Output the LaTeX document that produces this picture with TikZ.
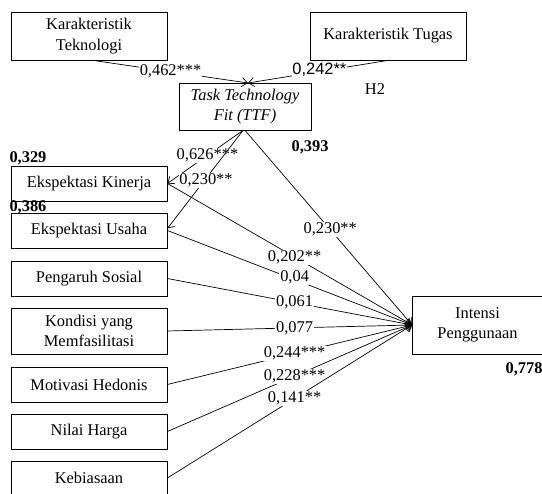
\documentclass[tikz,border=0pt]{standalone}
\usepackage{fontspec}
\setmainfont{Liberation Serif}
\newfontfamily\arialfont{Liberation Sans}
\usetikzlibrary{arrows.meta}
\newcommand\diagfont{\fontsize{16.4}{20.5}\selectfont}
\begin{document}
\begin{tikzpicture}[x=1pt,y=-1pt,
  box/.style={draw, line width=0.8pt, inner sep=0pt, align=center, font=\diagfont, minimum width=156pt},
  conn/.style={line width=0.7pt, -{Straight Barb[length=5.5pt,width=9pt]}},
  lbl/.style={fill=white, inner sep=0.8pt, font=\diagfont},
  bnum/.style={inner sep=0pt, font=\diagfont\bfseries}]
\useasboundingbox (0,0) rectangle (542,494);
% boxes
\node[box, minimum height=48pt] (tekno) at (89,36) {Karakteristik\\Teknologi};
\node[box, minimum height=48pt] (tugas) at (388,36) {Karakteristik Tugas};
\node[box, minimum width=132pt, minimum height=47pt, font=\diagfont\itshape] (ttf) at (245,106.5) {Task Technology\\Fit (TTF)};
\node[box, minimum height=35pt] (kin) at (89,183.5) {Ekspektasi Kinerja};
\node[box, minimum height=35pt] (usa) at (89,230.5) {Ekspektasi Usaha};
\node[box, minimum height=35pt] (sos) at (89,278.5) {Pengaruh Sosial};
\node[box, minimum height=46pt] (kon) at (89,331) {Kondisi yang\\Memfasilitasi};
\node[box, minimum height=35pt] (mot) at (89,384.5) {Motivasi Hedonis};
\node[box, minimum height=35pt] (nil) at (89,431.5) {Nilai Harga};
\node[box, minimum height=34pt] (keb) at (89,478) {Kebiasaan};
\node[box, minimum width=130pt, minimum height=58pt] (int) at (477.5,325) {Intensi\\Penggunaan};
\coordinate (ttfin) at (248,83);
% connectors
\draw[conn] ([xshift=4pt]tekno.south) -- node[lbl,pos=0.5]{0,462***} (ttfin);
\draw[conn] (tugas.south) -- node[lbl,pos=0.49,font={\arialfont\diagfont}, yshift=2pt]{0,242**} (ttfin);
\draw[conn] ([xshift=-2pt]ttf.south) -- node[lbl,pos=0.47]{0,626***} (kin.east);
\draw[conn] ([xshift=-2pt]ttf.south) -- node[lbl,pos=0.49, yshift=-2pt]{0,230**} ([yshift=2pt]usa.east);
\draw[conn] (ttf.south) -- node[lbl,pos=0.51]{0,230**} (int.west);
\draw[conn] (kin.east) -- node[lbl,pos=0.52]{0,202**} (int.west);
\draw[conn] (usa.east) -- node[lbl,pos=0.52, yshift=2pt]{0,04} (int.west);
\draw[conn] (sos.east) -- node[lbl,pos=0.52]{0,061} (int.west);
\draw[conn] (kon.east) -- node[lbl,pos=0.52]{0,077} (int.west);
\draw[conn] (mot.east) -- node[lbl,pos=0.52]{0,244***} (int.west);
\draw[conn] (nil.east) -- node[lbl,pos=0.52]{0,228***} (int.west);
\draw[conn] (keb.east) -- node[lbl,pos=0.52]{0,141**} (int.west);
% free labels
\node[bnum] (r1) at (28,158) {0,329};
\node[bnum] (r2) at (28,207) {0,386};
\node[bnum] (r3) at (310,147) {0,393};
\node[bnum] (r4) at (524,369) {0,778};
\node[inner sep=0pt, font=\diagfont] (h2) at (375,89) {H2};
\end{tikzpicture}
\end{document}
